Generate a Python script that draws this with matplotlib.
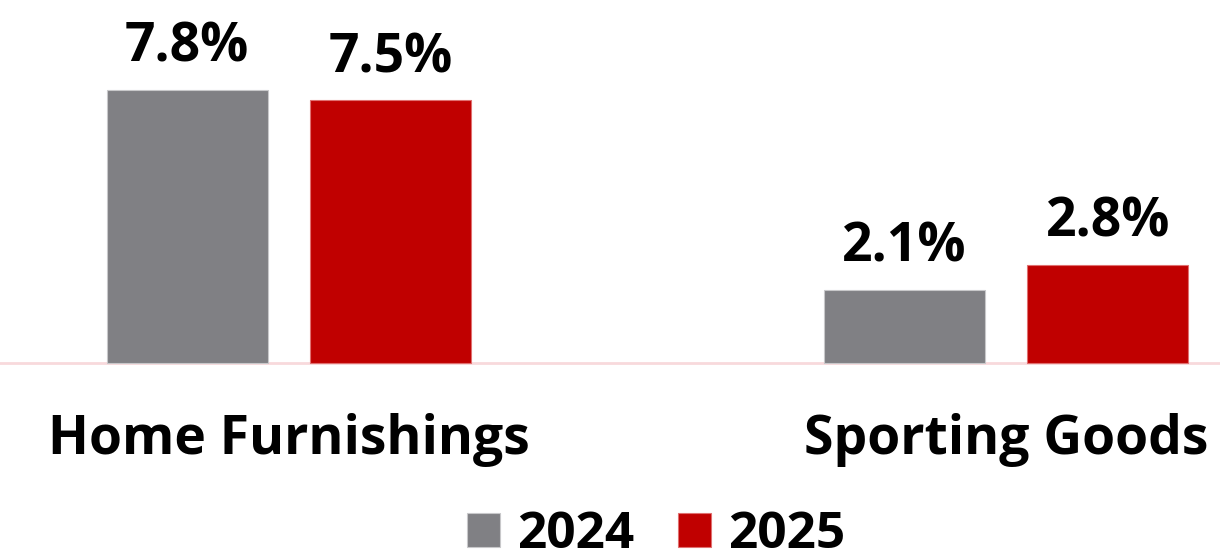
import numpy as np
import matplotlib
matplotlib.use('Agg')
import matplotlib.pyplot as plt

# Data
categories = ['Home Furnishings', 'Sporting Goods']
years = ['2024', '2025']
values_2024 = [7.8, 2.1]
values_2025 = [7.5, 2.8]
colors = ['#808084', '#c00000']

plt.rcParams['font.family'] = ['Open Sans', 'DejaVu Sans']
plt.rcParams['font.weight'] = 'bold'

fig = plt.figure(figsize=(12.2, 5.58), dpi=100)
ax = fig.add_axes([0, 0, 1, 1])

x = np.arange(len(categories))
width = 0.2245
offset = 0.1419

bars1 = ax.bar(x - offset, values_2024, width, color=colors[0], label=years[0],
               edgecolor='#c8c8ca', linewidth=0.8)
bars2 = ax.bar(x + offset, values_2025, width, color=colors[1], label=years[1],
               edgecolor='#e07070', linewidth=0.8)

# value labels
for bars in (bars1, bars2):
    for b in bars:
        ax.annotate(f'{b.get_height():.1f}%',
                    (b.get_x() + b.get_width() / 2, b.get_height()),
                    xytext=(0, 11), textcoords='offset points',
                    ha='center', va='bottom', fontsize=38.5, fontweight='bold')

# category labels
for xi, cat in zip(x, categories):
    ax.text(xi, -2.2, cat, ha='center', va='center', fontsize=38.5, fontweight='bold')

ax.axhline(0, color='#f8d9dc', lw=2, zorder=0)

ax.set_xlim(-0.403, 1.2985)
ax.set_ylim(-5.571, 10.371)
ax.axis('off')

fig.legend(loc='center', bbox_to_anchor=(656 / 1220, 1 - 535 / 558), ncol=2,
           frameon=False, fontsize=37, handlelength=0.64, handleheight=0.64,
           handletextpad=0.33, columnspacing=0.86, borderpad=0, borderaxespad=0)

fig.savefig('out.png', dpi=100)
